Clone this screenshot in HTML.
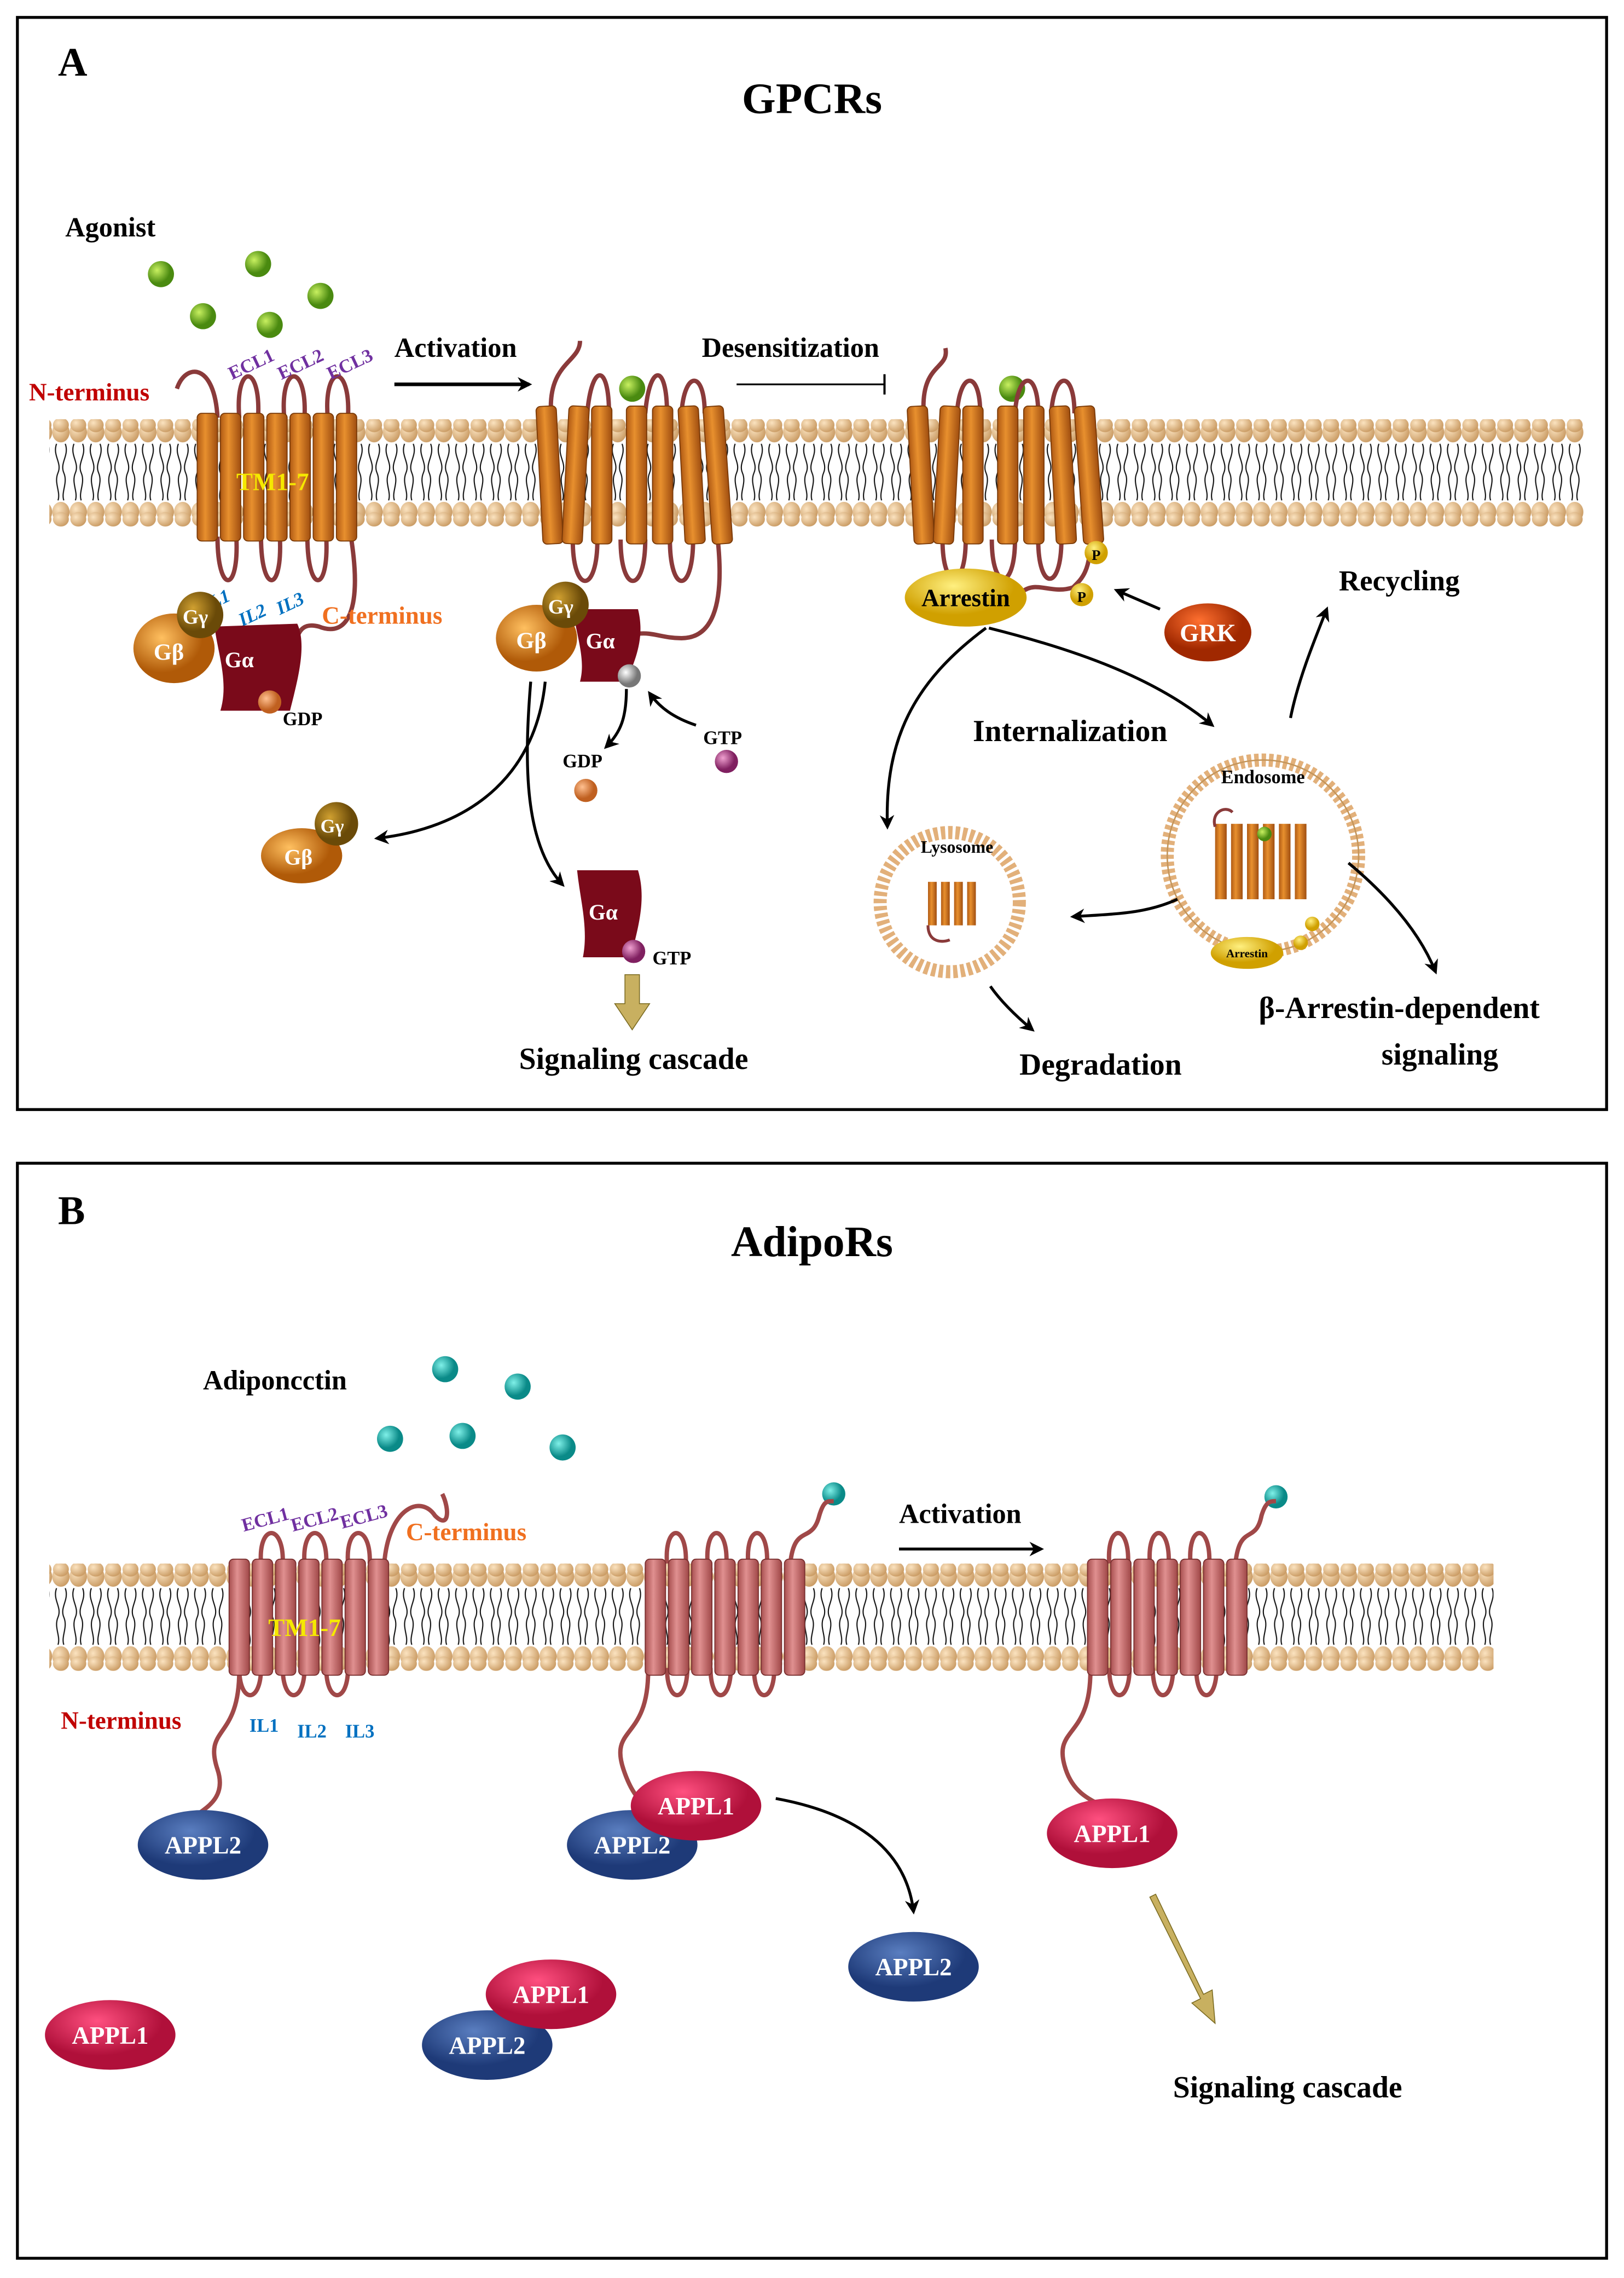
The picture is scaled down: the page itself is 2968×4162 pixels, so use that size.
<!DOCTYPE html>
<html><head><meta charset="utf-8"><style>
html,body{margin:0;padding:0;background:#fff}
svg{display:block}
text{font-family:"Liberation Serif",serif;font-weight:bold}
</style></head><body>
<svg width="2968" height="4162" viewBox="0 0 1120 1570.6" preserveAspectRatio="none" xmlns="http://www.w3.org/2000/svg">
<defs>
<radialGradient id="hd" cx="35%" cy="35%" r="70%"><stop offset="0" stop-color="#fbe3c0"/><stop offset="1" stop-color="#c99a62"/></radialGradient>
<pattern id="memA" x="0" y="289" width="12" height="74" patternUnits="userSpaceOnUse">
<ellipse cx="6" cy="9" rx="6" ry="7" fill="url(#hd)"/>
<ellipse cx="6" cy="4" rx="5.5" ry="5" fill="url(#hd)"/>
<path d="M3 17 C0 25 7 30 4 37 C1 44 6 50 4 56 M9 17 C12 25 5 30 8 37 C11 44 6 50 8 56" stroke="#111" stroke-width="0.8" fill="none"/>
<ellipse cx="6" cy="64" rx="6" ry="7" fill="url(#hd)"/>
<ellipse cx="6" cy="69" rx="5.5" ry="5" fill="url(#hd)"/>
</pattern>
<pattern id="memB" x="0" y="1078" width="12" height="74" patternUnits="userSpaceOnUse">
<ellipse cx="6" cy="9" rx="6" ry="7" fill="url(#hd)"/>
<ellipse cx="6" cy="4" rx="5.5" ry="5" fill="url(#hd)"/>
<path d="M3 17 C0 25 7 30 4 37 C1 44 6 50 4 56 M9 17 C12 25 5 30 8 37 C11 44 6 50 8 56" stroke="#111" stroke-width="0.8" fill="none"/>
<ellipse cx="6" cy="64" rx="6" ry="7" fill="url(#hd)"/>
<ellipse cx="6" cy="69" rx="5.5" ry="5" fill="url(#hd)"/>
</pattern>
<linearGradient id="cyl" x1="0" x2="1"><stop offset="0" stop-color="#b05a14"/><stop offset="0.4" stop-color="#e8902e"/><stop offset="1" stop-color="#a04e10"/></linearGradient>
<linearGradient id="cylp" x1="0" x2="1"><stop offset="0" stop-color="#a85050"/><stop offset="0.4" stop-color="#e09090"/><stop offset="1" stop-color="#a04848"/></linearGradient>
<radialGradient id="grn" cx="35%" cy="35%"><stop offset="0" stop-color="#c8f060"/><stop offset="1" stop-color="#4a8a10"/></radialGradient>
<radialGradient id="teal" cx="35%" cy="35%"><stop offset="0" stop-color="#7ff0e8"/><stop offset="1" stop-color="#0a8a88"/></radialGradient>
<radialGradient id="org" cx="35%" cy="35%"><stop offset="0" stop-color="#ffc060"/><stop offset="1" stop-color="#b05a08"/></radialGradient>
<radialGradient id="gg" cx="35%" cy="35%"><stop offset="0" stop-color="#d0a030"/><stop offset="1" stop-color="#6a4a08"/></radialGradient>
<radialGradient id="pink" cx="40%" cy="30%"><stop offset="0" stop-color="#ff5080"/><stop offset="1" stop-color="#b0103a"/></radialGradient>
<radialGradient id="blue" cx="40%" cy="30%"><stop offset="0" stop-color="#5a7ec0"/><stop offset="1" stop-color="#1e3a78"/></radialGradient>
<radialGradient id="yel" cx="40%" cy="30%"><stop offset="0" stop-color="#fff080"/><stop offset="1" stop-color="#d0a000"/></radialGradient>
<radialGradient id="red" cx="40%" cy="30%"><stop offset="0" stop-color="#ff7030"/><stop offset="1" stop-color="#a02800"/></radialGradient>
<radialGradient id="gtp" cx="35%" cy="35%"><stop offset="0" stop-color="#f0a0d0"/><stop offset="1" stop-color="#802060"/></radialGradient>
<radialGradient id="gdp" cx="35%" cy="35%"><stop offset="0" stop-color="#ffc090"/><stop offset="1" stop-color="#c06020"/></radialGradient>
<radialGradient id="gry" cx="35%" cy="35%"><stop offset="0" stop-color="#fff"/><stop offset="1" stop-color="#777"/></radialGradient>
<marker id="ar" markerWidth="10" markerHeight="10" refX="8" refY="5" orient="auto" markerUnits="userSpaceOnUse"><path d="M0 0 L10 5 L0 10 L3 5 Z" fill="#000"/></marker>
</defs>

<!-- Panel A -->
<rect x="12" y="12" width="1096" height="753" fill="none" stroke="#000" stroke-width="2"/>
<text x="40" y="52" font-size="28">A</text>
<text x="560" y="78" font-size="30" text-anchor="middle">GPCRs</text>
<rect x="34" y="289" width="1058" height="74" fill="url(#memA)"/>

<text x="45" y="163" font-size="19">Agonist</text>
<g fill="url(#grn)"><circle cx="111" cy="189" r="9"/><circle cx="178" cy="182" r="9"/><circle cx="140" cy="218" r="9"/><circle cx="186" cy="224" r="9"/><circle cx="221" cy="204" r="9"/><circle cx="436" cy="268" r="9"/><circle cx="698" cy="268" r="9"/></g>

<!-- receptor 1 -->
<g fill="none" stroke="#8a3a3a" stroke-width="3">
<path d="M150 288 C148 250 128 250 122 268"/>
<path d="M165 288 C162 250 180 250 178 288 M196 288 C193 250 212 250 210 288 M226 288 C223 250 242 250 240 288"/>
<path d="M150 370 C150 410 165 410 163 370 M180 370 C180 410 195 410 193 370 M212 370 C212 410 227 410 225 370"/>
<path d="M242 370 C250 420 240 440 220 432 C205 428 205 440 200 455"/>
</g>
<g fill="url(#cyl)" stroke="#7a3a08" stroke-width="0.7">
<rect x="136" y="285" width="14" height="88" rx="3"/><rect x="152" y="285" width="14" height="88" rx="3"/><rect x="168" y="285" width="14" height="88" rx="3"/><rect x="184" y="285" width="14" height="88" rx="3"/><rect x="200" y="285" width="14" height="88" rx="3"/><rect x="216" y="285" width="14" height="88" rx="3"/><rect x="232" y="285" width="14" height="88" rx="3"/>
</g>
<text x="188" y="338" font-size="17" fill="#f5e800" text-anchor="middle">TM1-7</text>
<text x="20" y="276" font-size="17" fill="#c00000">N-terminus</text>
<g font-size="13" fill="#7030a0" font-weight="normal"><text x="160" y="262" transform="rotate(-25 160 262)">ECL1</text><text x="194" y="262" transform="rotate(-25 194 262)">ECL2</text><text x="228" y="262" transform="rotate(-25 228 262)">ECL3</text></g>
<g font-size="13" fill="#0070c0" font-style="italic"><text x="142" y="422" transform="rotate(-25 142 422)">IL1</text><text x="167" y="432" transform="rotate(-25 167 432)">IL2</text><text x="193" y="424" transform="rotate(-25 193 424)">IL3</text></g>
<text x="222" y="430" font-size="17" fill="#f07020">C-terminus</text>
<path d="M148 432 L205 430 C212 445 205 470 200 490 L152 490 C158 470 150 450 148 432 Z" fill="#7a0a1a"/>
<text x="155" y="460" font-size="15" fill="#fff">Gα</text>
<ellipse cx="120" cy="447" rx="28" ry="24" fill="url(#org)"/><text x="106" y="455" font-size="16" fill="#fff">Gβ</text>
<circle cx="138" cy="424" r="16" fill="url(#gg)"/><text x="126" y="430" font-size="14" fill="#fff">Gγ</text>
<circle cx="186" cy="484" r="8" fill="url(#gdp)"/>
<text x="195" y="500" font-size="13">GDP</text>

<!-- activation arrow -->
<text x="272" y="246" font-size="19">Activation</text>
<line x1="272" y1="265" x2="365" y2="265" stroke="#000" stroke-width="2.5" marker-end="url(#ar)"/>

<!-- receptor 2 -->
<g fill="none" stroke="#8a3a3a" stroke-width="3">
<path d="M380 285 C378 250 400 250 400 235 M405 285 C408 250 420 250 420 285 M445 285 C448 250 460 250 460 285 M470 285 C472 255 486 255 486 285"/>
<path d="M395 372 C395 410 412 410 412 372 M428 372 C428 410 445 410 445 372 M462 372 C462 410 478 410 478 372"/>
<path d="M495 372 C500 420 490 440 470 440 C450 440 445 430 420 445"/>
</g>
<g fill="url(#cyl)" stroke="#7a3a08" stroke-width="0.7">
<rect x="372" y="280" width="14" height="95" rx="3" transform="rotate(-3 379 327)"/><rect x="390" y="280" width="14" height="95" rx="3" transform="rotate(3 397 327)"/><rect x="408" y="280" width="14" height="95" rx="3"/><rect x="432" y="280" width="14" height="95" rx="3"/><rect x="450" y="280" width="14" height="95" rx="3"/><rect x="470" y="280" width="14" height="95" rx="3" transform="rotate(-3 477 327)"/><rect x="488" y="280" width="14" height="95" rx="3" transform="rotate(-4 495 327)"/>
</g>
<path d="M395 420 L440 420 C445 440 438 455 432 470 L400 470 C404 455 398 440 395 420 Z" fill="#7a0a1a"/>
<text x="404" y="447" font-size="15" fill="#fff">Gα</text>
<ellipse cx="370" cy="440" rx="28" ry="23" fill="url(#org)"/><text x="356" y="447" font-size="16" fill="#fff">Gβ</text>
<circle cx="390" cy="417" r="16" fill="url(#gg)"/><text x="378" y="423" font-size="14" fill="#fff">Gγ</text>
<circle cx="434" cy="466" r="8" fill="url(#gry)"/>
<path d="M432 475 C432 495 428 505 418 515" fill="none" stroke="#000" stroke-width="2" marker-end="url(#ar)"/>
<path d="M480 500 C465 495 455 488 448 478" fill="none" stroke="#000" stroke-width="2" marker-end="url(#ar)"/>
<text x="485" y="513" font-size="13">GTP</text><circle cx="501" cy="525" r="8" fill="url(#gtp)"/>
<text x="388" y="529" font-size="13">GDP</text><circle cx="404" cy="545" r="8" fill="url(#gdp)"/>
<path d="M376 470 C370 530 330 570 260 578" fill="none" stroke="#000" stroke-width="2" marker-end="url(#ar)"/>
<path d="M366 470 C362 520 360 580 388 610" fill="none" stroke="#000" stroke-width="2" marker-end="url(#ar)"/>
<ellipse cx="208" cy="590" rx="28" ry="19" fill="url(#org)"/><text x="196" y="596" font-size="15" fill="#fff">Gβ</text>
<circle cx="232" cy="568" r="15" fill="url(#gg)"/><text x="221" y="574" font-size="13" fill="#fff">Gγ</text>
<path d="M398 600 L440 600 C446 620 440 640 435 660 L402 660 C406 640 400 620 398 600 Z" fill="#7a0a1a"/>
<text x="406" y="634" font-size="15" fill="#fff">Gα</text>
<circle cx="437" cy="656" r="8" fill="url(#gtp)"/><text x="450" y="665" font-size="13">GTP</text>
<path d="M431 672 L431 692 L424 692 L436 710 L448 692 L441 692 L441 672 Z" fill="#c8b060" stroke="#7a6a20" stroke-width="0.6"/>
<text x="437" y="737" font-size="21" text-anchor="middle">Signaling cascade</text>

<!-- desensitization -->
<text x="484" y="246" font-size="19">Desensitization</text>
<line x1="508" y1="265" x2="610" y2="265" stroke="#000" stroke-width="1.2"/><line x1="610" y1="258" x2="610" y2="272" stroke="#000" stroke-width="1.5"/>

<!-- receptor 3 -->
<g fill="none" stroke="#8a3a3a" stroke-width="3">
<path d="M637 285 C635 250 655 255 652 240 M660 285 C662 255 676 255 676 285 M700 285 C702 255 716 255 716 285 M725 285 C727 255 741 255 741 285"/>
<path d="M650 372 C650 408 666 408 666 372 M684 372 C684 408 700 408 700 372 M716 372 C716 408 732 408 732 372"/>
<path d="M752 372 C752 395 745 400 740 405 C725 410 715 400 705 408"/>
</g>
<g fill="url(#cyl)" stroke="#7a3a08" stroke-width="0.7">
<rect x="628" y="280" width="14" height="95" rx="3" transform="rotate(-3 635 327)"/><rect x="646" y="280" width="14" height="95" rx="3" transform="rotate(3 653 327)"/><rect x="664" y="280" width="14" height="95" rx="3"/><rect x="688" y="280" width="14" height="95" rx="3"/><rect x="706" y="280" width="14" height="95" rx="3"/><rect x="726" y="280" width="14" height="95" rx="3" transform="rotate(-3 733 327)"/><rect x="744" y="280" width="14" height="95" rx="3" transform="rotate(-4 751 327)"/>
</g>
<circle cx="756" cy="381" r="8" fill="url(#yel)"/><text x="756" y="386" font-size="10" text-anchor="middle">P</text>
<circle cx="746" cy="410" r="8" fill="url(#yel)"/><text x="746" y="415" font-size="10" text-anchor="middle">P</text>
<ellipse cx="666" cy="412" rx="42" ry="20" fill="url(#yel)"/><text x="666" y="418" font-size="17" text-anchor="middle">Arrestin</text>
<ellipse cx="833" cy="436" rx="30" ry="20" fill="url(#red)"/><text x="833" y="442" font-size="17" fill="#fff" text-anchor="middle">GRK</text>
<line x1="800" y1="420" x2="770" y2="407" stroke="#000" stroke-width="2" marker-end="url(#ar)"/>
<text x="965" y="407" font-size="20" text-anchor="middle">Recycling</text>
<path d="M890 495 C895 470 905 445 915 420" fill="none" stroke="#000" stroke-width="2" marker-end="url(#ar)"/>
<text x="738" y="511" font-size="21" text-anchor="middle">Internalization</text>
<path d="M682 433 C750 450 800 470 836 500" fill="none" stroke="#000" stroke-width="2" marker-end="url(#ar)"/>
<path d="M680 433 C630 470 610 510 612 570" fill="none" stroke="#000" stroke-width="2" marker-end="url(#ar)"/>
<!-- endosome -->
<circle cx="871" cy="590" r="66" fill="#fff" stroke="#e2b07a" stroke-width="9" stroke-dasharray="3 2"/>
<circle cx="871" cy="590" r="66" fill="none" stroke="#c4955a" stroke-width="1"/>
<text x="871" y="540" font-size="13" text-anchor="middle">Endosome</text>
<g fill="url(#cyl)"><rect x="838" y="568" width="8" height="52"/><rect x="849" y="568" width="8" height="52"/><rect x="860" y="568" width="8" height="52"/><rect x="871" y="568" width="8" height="52"/><rect x="882" y="568" width="8" height="52"/><rect x="893" y="568" width="8" height="52"/></g>
<circle cx="872" cy="575" r="5" fill="url(#grn)"/>
<path d="M838 570 C835 560 845 555 850 560" fill="none" stroke="#8a3a3a" stroke-width="2"/>
<circle cx="905" cy="637" r="5" fill="url(#yel)"/><circle cx="897" cy="650" r="5" fill="url(#yel)"/>
<ellipse cx="860" cy="657" rx="25" ry="11" fill="url(#yel)"/><text x="860" y="660" font-size="8" text-anchor="middle">Arrestin</text>
<path d="M812 620 C790 630 770 630 740 632" fill="none" stroke="#000" stroke-width="2" marker-end="url(#ar)"/>
<path d="M930 595 C960 620 980 645 990 670" fill="none" stroke="#000" stroke-width="2" marker-end="url(#ar)"/>
<!-- lysosome -->
<circle cx="655" cy="622" r="48" fill="#fff" stroke="#e2b07a" stroke-width="9" stroke-dasharray="3 2"/>
<text x="660" y="588" font-size="12" text-anchor="middle">Lysosome</text>
<g fill="url(#cyl)"><rect x="640" y="608" width="6" height="30"/><rect x="649" y="608" width="6" height="30"/><rect x="658" y="608" width="6" height="30"/><rect x="667" y="608" width="6" height="30"/></g>
<path d="M640 638 C640 650 650 650 655 648" fill="none" stroke="#8a3a3a" stroke-width="2"/>
<path d="M683 680 C690 690 700 700 712 710" fill="none" stroke="#000" stroke-width="2" marker-end="url(#ar)"/>
<text x="759" y="741" font-size="21" text-anchor="middle">Degradation</text>
<text x="965" y="702" font-size="21" text-anchor="middle">β-Arrestin-dependent</text>
<text x="993" y="734" font-size="21" text-anchor="middle">signaling</text>

<!-- Panel B -->
<rect x="12" y="802" width="1096" height="755" fill="none" stroke="#000" stroke-width="2"/>
<text x="40" y="844" font-size="28">B</text>
<text x="560" y="866" font-size="30" text-anchor="middle">AdipoRs</text>
<rect x="34" y="1078" width="996" height="74" fill="url(#memB)"/>
<text x="140" y="958" font-size="19">Adiponcctin</text>
<g fill="url(#teal)"><circle cx="307" cy="944" r="9"/><circle cx="357" cy="956" r="9"/><circle cx="269" cy="992" r="9"/><circle cx="319" cy="990" r="9"/><circle cx="388" cy="998" r="9"/><circle cx="575" cy="1030" r="8"/><circle cx="880" cy="1032" r="8"/></g>

<!-- B receptor 1 -->
<g fill="none" stroke="#a04848" stroke-width="3">
<path d="M180 1078 C178 1050 196 1050 195 1078 M210 1078 C208 1050 226 1050 225 1078 M240 1078 C238 1050 256 1050 255 1078"/>
<path d="M265 1078 C268 1040 290 1030 300 1045 C310 1055 310 1040 305 1030"/>
<path d="M165 1150 C165 1175 180 1175 180 1150 M195 1150 C195 1175 210 1175 210 1150 M225 1150 C225 1175 240 1175 240 1150"/>
<path d="M165 1152 C165 1200 140 1190 150 1220 C160 1250 120 1250 135 1262"/>
</g>
<g fill="url(#cylp)" stroke="#7a3030" stroke-width="0.7">
<rect x="158" y="1075" width="14" height="80" rx="3"/><rect x="174" y="1075" width="14" height="80" rx="3"/><rect x="190" y="1075" width="14" height="80" rx="3"/><rect x="206" y="1075" width="14" height="80" rx="3"/><rect x="222" y="1075" width="14" height="80" rx="3"/><rect x="238" y="1075" width="14" height="80" rx="3"/><rect x="254" y="1075" width="14" height="80" rx="3"/>
</g>
<text x="210" y="1128" font-size="17" fill="#f5e800" text-anchor="middle">TM1-7</text>
<g font-size="13" fill="#7030a0" font-weight="normal"><text x="168" y="1056" transform="rotate(-15 168 1056)">ECL1</text><text x="202" y="1056" transform="rotate(-15 202 1056)">ECL2</text><text x="236" y="1054" transform="rotate(-15 236 1054)">ECL3</text></g>
<text x="280" y="1062" font-size="17" fill="#f07020">C-terminus</text>
<text x="42" y="1192" font-size="17" fill="#c00000">N-terminus</text>
<g font-size="13" fill="#0070c0"><text x="172" y="1194">IL1</text><text x="205" y="1198">IL2</text><text x="238" y="1198">IL3</text></g>
<ellipse cx="140" cy="1272" rx="45" ry="24" fill="url(#blue)"/><text x="140" y="1278" font-size="17" fill="#fff" text-anchor="middle">APPL2</text>

<!-- B receptor 2 -->
<g fill="none" stroke="#a04848" stroke-width="3">
<path d="M460 1078 C458 1050 474 1050 473 1078 M488 1078 C486 1050 502 1050 501 1078 M516 1078 C514 1050 530 1050 529 1078"/>
<path d="M545 1078 C548 1050 560 1065 565 1045 C568 1035 570 1035 575 1035"/>
<path d="M460 1150 C460 1175 474 1175 474 1150 M490 1150 C490 1175 504 1175 504 1150 M520 1150 C520 1175 534 1175 534 1150"/>
<path d="M447 1152 C447 1200 420 1190 430 1220 C435 1235 440 1240 445 1245"/>
</g>
<g fill="url(#cylp)" stroke="#7a3030" stroke-width="0.7">
<rect x="445" y="1075" width="14" height="80" rx="3"/><rect x="461" y="1075" width="14" height="80" rx="3"/><rect x="477" y="1075" width="14" height="80" rx="3"/><rect x="493" y="1075" width="14" height="80" rx="3"/><rect x="509" y="1075" width="14" height="80" rx="3"/><rect x="525" y="1075" width="14" height="80" rx="3"/><rect x="541" y="1075" width="14" height="80" rx="3"/>
</g>
<ellipse cx="436" cy="1272" rx="45" ry="24" fill="url(#blue)"/><text x="436" y="1278" font-size="17" fill="#fff" text-anchor="middle">APPL2</text>
<ellipse cx="480" cy="1245" rx="45" ry="24" fill="url(#pink)"/><text x="480" y="1251" font-size="17" fill="#fff" text-anchor="middle">APPL1</text>
<path d="M535 1240 C590 1250 625 1275 630 1318" fill="none" stroke="#000" stroke-width="2" marker-end="url(#ar)"/>
<ellipse cx="630" cy="1356" rx="45" ry="24" fill="url(#blue)"/><text x="630" y="1362" font-size="17" fill="#fff" text-anchor="middle">APPL2</text>

<!-- B activation -->
<text x="620" y="1050" font-size="19">Activation</text>
<line x1="620" y1="1068" x2="718" y2="1068" stroke="#000" stroke-width="2" marker-end="url(#ar)"/>

<!-- B receptor 3 -->
<g fill="none" stroke="#a04848" stroke-width="3">
<path d="M765 1078 C763 1050 779 1050 778 1078 M793 1078 C791 1050 807 1050 806 1078 M821 1078 C819 1050 835 1050 834 1078"/>
<path d="M852 1078 C855 1050 866 1065 870 1045 C873 1035 876 1035 880 1035"/>
<path d="M765 1150 C765 1175 779 1175 779 1150 M795 1150 C795 1175 809 1175 809 1150 M825 1150 C825 1175 839 1175 839 1150"/>
<path d="M752 1152 C752 1200 725 1190 735 1220 C740 1235 750 1240 760 1245"/>
</g>
<g fill="url(#cylp)" stroke="#7a3030" stroke-width="0.7">
<rect x="750" y="1075" width="14" height="80" rx="3"/><rect x="766" y="1075" width="14" height="80" rx="3"/><rect x="782" y="1075" width="14" height="80" rx="3"/><rect x="798" y="1075" width="14" height="80" rx="3"/><rect x="814" y="1075" width="14" height="80" rx="3"/><rect x="830" y="1075" width="14" height="80" rx="3"/><rect x="846" y="1075" width="14" height="80" rx="3"/>
</g>
<ellipse cx="767" cy="1264" rx="45" ry="24" fill="url(#pink)"/><text x="767" y="1270" font-size="17" fill="#fff" text-anchor="middle">APPL1</text>
<path d="M793 1308 L828 1378 L822 1381 L838 1395 L836 1372 L830 1375 L797 1306 Z" fill="#c8b060" stroke="#7a6a20" stroke-width="0.6"/>
<text x="888" y="1446" font-size="21" text-anchor="middle">Signaling cascade</text>

<ellipse cx="76" cy="1403" rx="45" ry="24" fill="url(#pink)"/><text x="76" y="1409" font-size="17" fill="#fff" text-anchor="middle">APPL1</text>
<ellipse cx="336" cy="1410" rx="45" ry="24" fill="url(#blue)"/><text x="336" y="1416" font-size="17" fill="#fff" text-anchor="middle">APPL2</text>
<ellipse cx="380" cy="1375" rx="45" ry="24" fill="url(#pink)"/><text x="380" y="1381" font-size="17" fill="#fff" text-anchor="middle">APPL1</text>
</svg>
</body></html>
